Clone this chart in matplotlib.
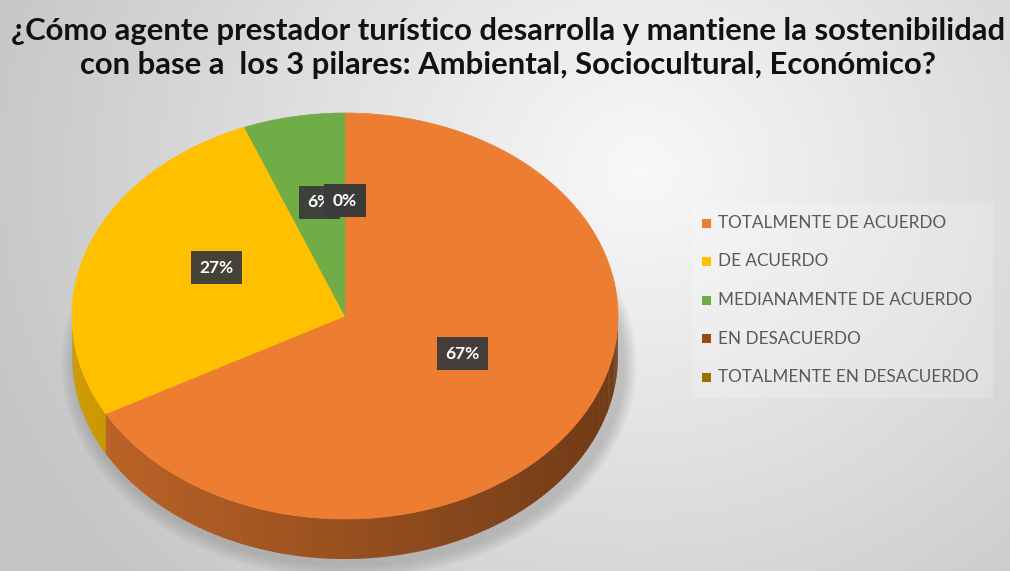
import numpy as np
import matplotlib
matplotlib.use('Agg')
import matplotlib.pyplot as plt
from matplotlib.patches import Polygon, Rectangle, Ellipse

# datos
categorias = ['TOTALMENTE DE ACUERDO', 'DE ACUERDO', 'MEDIANAMENTE DE ACUERDO',
              'EN DESACUERDO', 'TOTALMENTE EN DESACUERDO']
porcentajes = [67, 27, 6, 0, 0]
colores = ['#ED7D31', '#FFC000', '#70AD47', '#9E480E', '#997300']
titulo = ('¿Cómo agente prestador turístico desarrolla y mantiene la sostenibilidad\n'
          'con base a  los 3 pilares: Ambiental, Sociocultural, Económico?')

W, H = 1010, 571
fig = plt.figure(figsize=(W / 100, H / 100), dpi=100)
ax = fig.add_axes([0, 0, 1, 1])
ax.set_xlim(0, W)
ax.set_ylim(H, 0)
ax.axis('off')

# fondo con degradado radial
yy, xx = np.mgrid[0:H, 0:W]
d = np.sqrt(((xx - 640) / 1.0) ** 2 + ((yy - 170) / 0.9) ** 2) / 700
d = np.clip(d, 0, 1)
top = np.array([0.975, 0.975, 0.975])
bot = np.array([0.77, 0.77, 0.77])
bg = top[None, None, :] * (1 - d[..., None]) + bot[None, None, :] * d[..., None]
ax.imshow(bg, extent=(0, W, H, 0), zorder=0, aspect='auto')

# geometría del pastel 3D
cx, cy, rx, ry, depth = 345, 316, 273, 203, 40


def elipse(t, dy=0):
    t = np.radians(t)
    return cx + rx * np.sin(t), cy - ry * np.cos(t) + dy


# sombra suave
for k in range(14):
    ax.add_patch(Ellipse((cx + 4, cy + depth + 8), 2 * rx + 30 - 2 * k, 2 * ry + 24 - 2 * k,
                         facecolor='#707070', alpha=0.025, edgecolor='none', zorder=1))

tot = sum(porcentajes)
bounds = np.concatenate([[0], np.cumsum(porcentajes)]) / tot * 360

# lados visibles (mitad frontal)
for i, col in enumerate(colores):
    a, b = bounds[i], bounds[i + 1]
    lo, hi = max(a, 90), min(b, 270)
    if hi <= lo:
        continue
    n = max(int((hi - lo) / 1.0), 2)
    ts = np.linspace(lo, hi, n + 1)
    base = np.array(matplotlib.colors.to_rgb(col))
    for t0, t1 in zip(ts[:-1], ts[1:]):
        tm = np.radians((t0 + t1) / 2)
        f = 0.64 - 0.17 * np.sin(tm)
        seg = np.linspace(t0, t1 + 0.3, 3)
        x1, y1 = elipse(seg)
        x2, y2 = elipse(seg[::-1], depth)
        ax.add_patch(Polygon(np.column_stack([np.r_[x1, x2], np.r_[y1, y2]]),
                             closed=True, facecolor=np.clip(base * f, 0, 1),
                             edgecolor='none', zorder=2))

# superficie superior
for i, col in enumerate(colores):
    a, b = bounds[i], bounds[i + 1]
    if b - a <= 0:
        continue
    ts = np.linspace(a, b, max(int(b - a), 2) + 1)
    x, y = elipse(ts)
    ax.add_patch(Polygon(np.column_stack([np.r_[cx, x], np.r_[cy, y]]), closed=True,
                         facecolor=col, edgecolor=col, linewidth=0.5, zorder=3))

# etiquetas de datos
for i, p in enumerate(porcentajes):
    tm = (bounds[i] + bounds[i + 1]) / 2
    lx, ly = elipse(tm)
    lx = cx + 0.5 * (lx - cx)
    ly = cy + 0.5 * (ly - cy) - 14
    ax.text(lx, ly, f'{p}%', ha='center', va='center', color='white',
            fontsize=12.5, fontweight='bold', family='Lato', zorder=5,
            bbox=dict(boxstyle='square,pad=0.5', facecolor='#3b3b3b',
                      edgecolor='none', alpha=0.95))

# título
ax.text(W / 2 + 3, 48, titulo, ha='center', va='center', fontsize=22.3,
        fontweight='bold', family='Lato', color='#111111', linespacing=1.3, zorder=6)

# leyenda
ax.add_patch(Rectangle((693, 203), 300, 195, facecolor='white', alpha=0.2,
                       edgecolor='none', zorder=4))
for i, (cat, col) in enumerate(zip(categorias, colores)):
    y = 223 + i * 38.5
    ax.add_patch(Rectangle((702, y - 4.5), 9, 9, facecolor=col, edgecolor='none', zorder=5))
    ax.text(718, y, cat, ha='left', va='center', fontsize=12.3, color='#595959',
            family='Lato', zorder=5)

fig.savefig('out.png', dpi=100)
